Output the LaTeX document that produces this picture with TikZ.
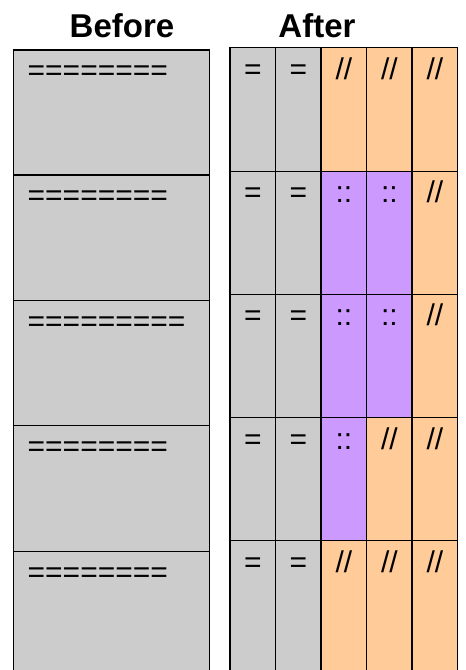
\documentclass[tikz,border=0pt]{standalone}
\usepackage{fontspec}
\setmainfont{Liberation Sans}
\definecolor{cellgray}{RGB}{204,204,204}
\definecolor{cellorange}{RGB}{255,204,153}
\definecolor{cellviolet}{RGB}{204,153,255}
\newcommand\markg{=}
\newcommand\marko{//}
\newcommand\markv{::}

\begin{document}
\begin{tikzpicture}[x=1pt,y=-1pt,
    cell/.style={draw=black,line width=1.5pt},
    cell g/.style={fill=cellgray},
    cell o/.style={fill=cellorange},
    cell v/.style={fill=cellviolet},
    title/.style={font=\fontsize{33}{40}\bfseries\selectfont,anchor=base,inner sep=0pt},
    code/.style={font=\fontsize{30}{36}\selectfont,anchor=base,inner sep=0pt}]
    \useasboundingbox (0,0) rectangle (466,670);
    \clip (0,0) rectangle (466,670);
    \node[title] (before) at (122,37) {Before};
    \node[title] (after) at (317,37) {After};
    % Vorher: ein breiter Block je Zeile.
    \foreach \top/\bot/\eqs [count=\r] in {50/175/========,175/300.5/========,
        300.5/425.7/=========,425.7/551.5/========,551.5/690/========}{
      \draw[cell,cell g] (13.3,\top) rectangle (209.3,\bot);
      \node[code,anchor=base west] (old-\r) at (27.5,\top+30.5) {\eqs};
    }
    % Nachher: fuenf Spalten je Zeile.
    \foreach \top/\bot/\kinds [count=\r] in {47.7/171.3/{g,g,o,o,o},
        171.3/294.4/{g,g,v,v,o},294.4/417.5/{g,g,v,v,o},
        417.5/540.7/{g,g,v,o,o},540.7/690/{g,g,o,o,o}}{
      \foreach \c [count=\k] in \kinds {
        \pgfmathsetmacro\xl{230+45.54*(\k-1)}
        \pgfmathsetmacro\xr{230+45.54*\k}
        \draw[cell,cell \c] (\xl,\top) rectangle (\xr,\bot);
        \node[code] (new-\r-\k) at ({(\xl+\xr)/2},\top+31.5) {\csname mark\c\endcsname};
      }
    }
\end{tikzpicture}
\end{document}
